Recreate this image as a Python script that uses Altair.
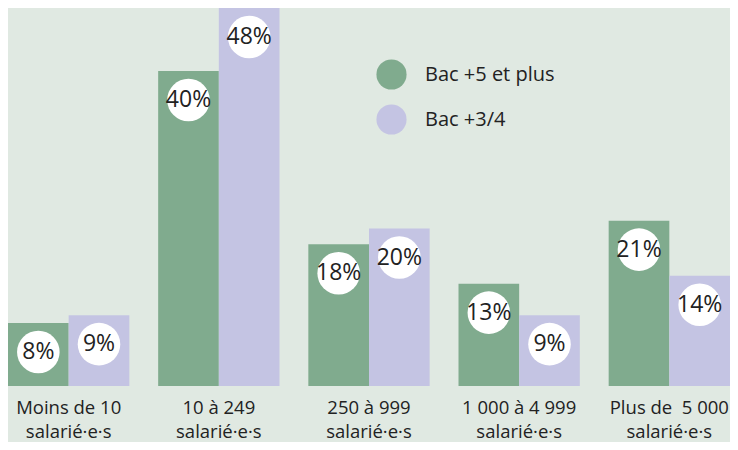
import altair as alt
import pandas as pd

categories = ["Moins de 10|salarié·e·s", "10 à 249|salarié·e·s", "250 à 999|salarié·e·s",
              "1 000 à 4 999|salarié·e·s", "Plus de \u00a05 000|salarié·e·s"]
series_names = ["Bac +5 et plus", "Bac +3/4"]
bac5 = [8, 40, 18, 13, 21]
bac34 = [9, 48, 20, 9, 14]
colors = ["#80AB8E", "#C4C4E3"]

rows = []
for c, a, b in zip(categories, bac5, bac34):
    rows.append({"cat": c, "serie": series_names[0], "val": a, "lab": f"{a}%"})
    rows.append({"cat": c, "serie": series_names[1], "val": b, "lab": f"{b}%"})
df = pd.DataFrame(rows)

FONT = "Open Sans"

x = alt.X("cat:N", sort=categories, title=None,
          scale=alt.Scale(paddingInner=0.192, paddingOuter=0),
          axis=alt.Axis(labelExpr="split(datum.label, '|')", labelAngle=0, ticks=False, domain=False,
                        labelFontSize=18.5, labelFont=FONT, labelColor="#222222", labelPadding=12,
                        labelLineHeight=24, labelBaseline="top"))
y = alt.Y("val:Q", title=None, scale=alt.Scale(domain=[0, 48], nice=False), axis=None)
xo = alt.XOffset("serie:N", sort=series_names)

base = alt.Chart(df).encode(x=x, xOffset=xo, y=y)

bars = base.mark_bar().encode(
    color=alt.Color("serie:N", sort=series_names,
                    scale=alt.Scale(domain=series_names, range=colors),
                    legend=alt.Legend(title=None, orient="none", legendX=368, legendY=51,
                                      symbolType="circle", symbolSize=908, symbolStrokeWidth=0,
                                      symbolOpacity=1, labelFontSize=20, labelFont=FONT,
                                      labelColor="#222222", rowPadding=14, labelOffset=18))
)
circles = base.mark_circle(size=1810, color="white", opacity=1, yOffset=29)
texts = base.mark_text(fontSize=23, font=FONT, color="#222222", yOffset=29, baseline="middle").encode(
    text="lab:N")

chart = alt.layer(bars, circles, texts).properties(
    width=722, height=378, autosize=alt.AutoSizeParams(type="none"),
    padding={"left": 0, "top": 0, "right": 0, "bottom": 56},
    background="#E0E9E2"
).configure_view(stroke=None)

chart.save("out.html", embed_options={"renderer": "svg", "actions": False})
